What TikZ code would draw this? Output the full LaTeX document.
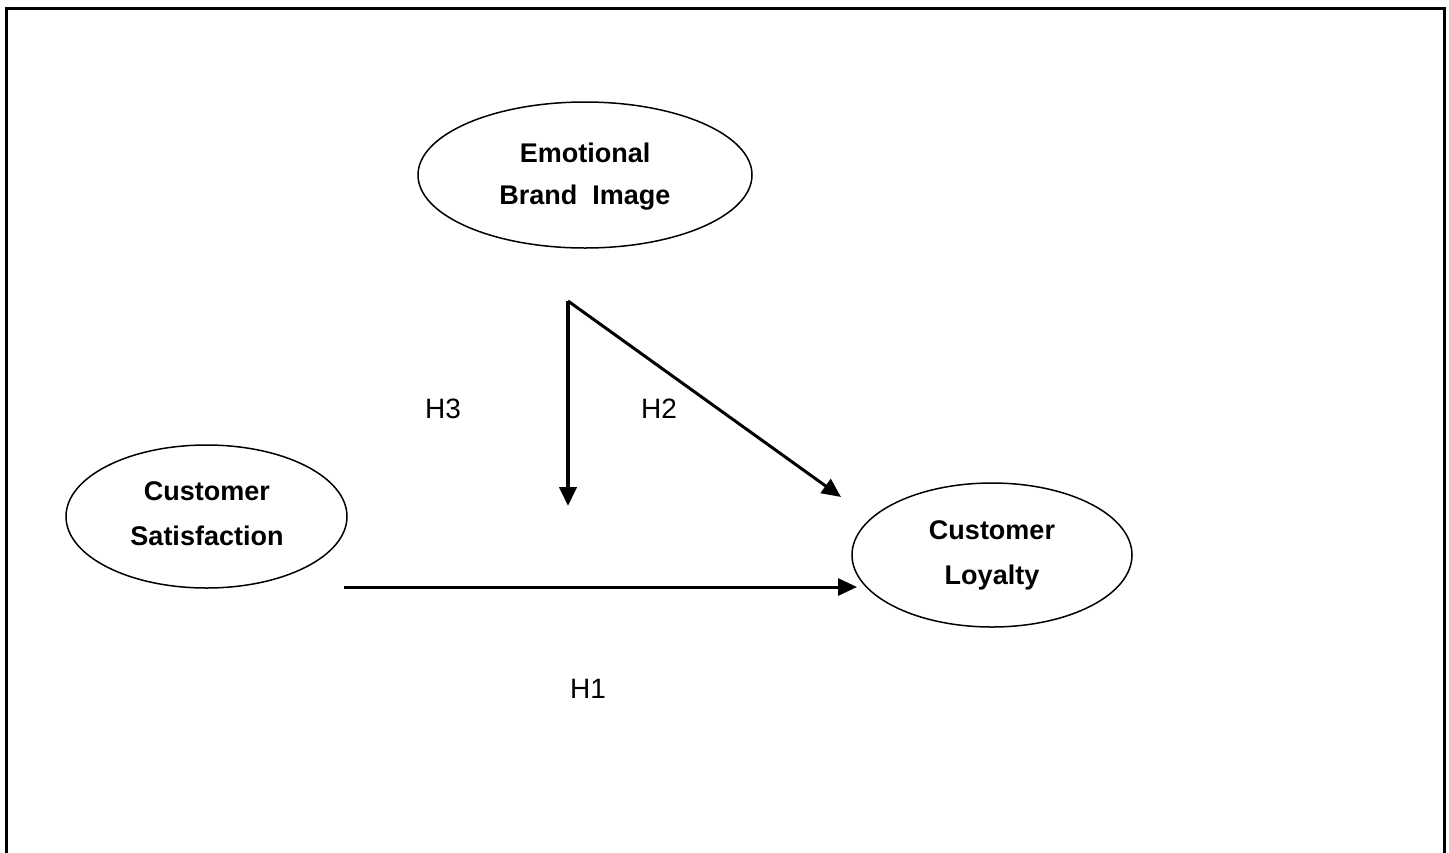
\documentclass[tikz,border=0pt]{standalone}
\usepackage{fontspec}
\setmainfont{Liberation Sans}
\usetikzlibrary{shapes.geometric,arrows.meta}
\begin{document}
\begin{tikzpicture}[x=1pt,y=-1pt,
  construct/.style={draw,ellipse,line width=1.5pt,inner sep=0pt},
  ctext/.style={font=\fontsize{27}{30}\selectfont\bfseries,align=center,anchor=base},
  hlabel/.style={font=\fontsize{28}{32}\selectfont,anchor=base},
  link/.style={line width=3pt,-{Triangle[length=19pt,width=17pt]}},
  thicklink/.style={line width=4pt,-{Triangle[length=19pt,width=17pt]}}
]
\useasboundingbox (0,0) rectangle (1449,852);
\draw[line width=3pt] (6.5,860) -- (6.5,8) -- (1444,8) -- (1444,860);

% ellipses
\node[construct,minimum width=334pt,minimum height=146pt] (ebi) at (585,175) {};
\node[construct,minimum width=281pt,minimum height=143pt] (cs) at (206.5,516.5) {};
\node[construct,minimum width=280pt,minimum height=144pt] (cl) at (992,555) {};

\node[ctext] (ebi1) at (585,162) {Emotional};
\node[ctext] (ebi2) at (585,204) {Brand\ \ Image};
\node[ctext] (cs1) at (207,500) {Customer};
\node[ctext] (cs2) at (207,545) {Satisfaction};
\node[ctext] (cl1) at (992,539) {Customer};
\node[ctext] (cl2) at (992,584) {Loyalty};

% connectors
\coordinate (apex) at (568,301);
\coordinate (h3end) at (568,506);
\coordinate (h2end) at (841,497);
\coordinate (h1start) at (344,587);
\coordinate (h1end) at (857,587);
\draw[thicklink] (apex) -- (h3end);
\draw[link] (apex) -- (h2end);
\draw[link] (h1start) -- (h1end);

\node[hlabel] (h3) at (443,418) {H3};
\node[hlabel] (h2) at (659,418) {H2};
\node[hlabel] (h1) at (588,698) {H1};
\end{tikzpicture}
\end{document}
